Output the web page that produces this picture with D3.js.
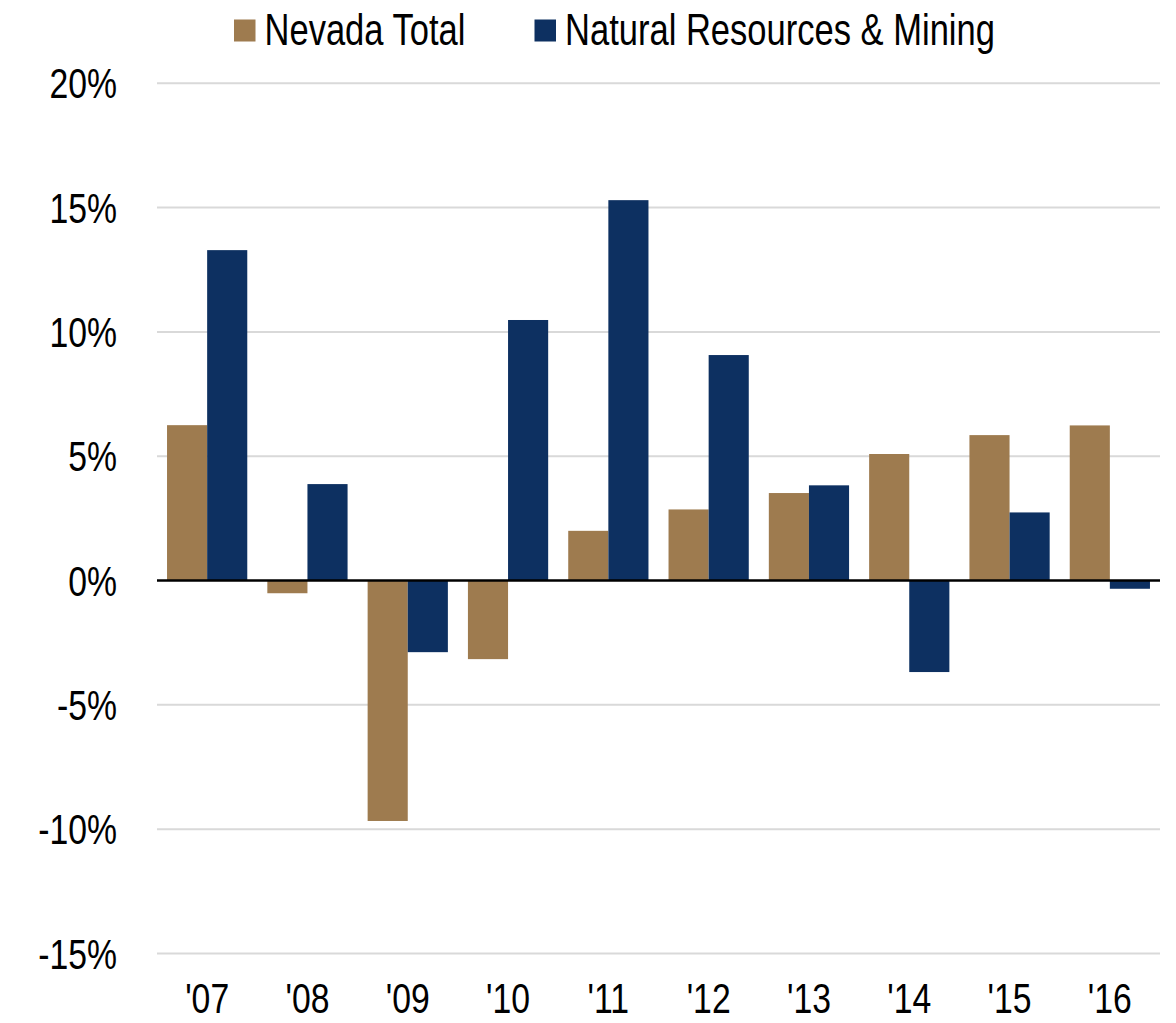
<!DOCTYPE html>
<html>
<head>
<meta charset="utf-8">
<script src="https://cdn.jsdelivr.net/npm/d3@7"></script>
<style>
  html, body { margin: 0; padding: 0; background: #fff; }
  svg text { font-family: "Liberation Sans", Arial, sans-serif; fill: #000; }
</style>
</head>
<body>
<svg id="chart" width="1176" height="1023"></svg>
<script>
// Annual employment growth by year
const years = ["'07", "'08", "'09", "'10", "'11", "'12", "'13", "'14", "'15", "'16"];
const nevadaTotal = [6.25, -0.51, -9.67, -3.16, 2.0, 2.86, 3.52, 5.09, 5.85, 6.24];
const naturalResources = [13.29, 3.88, -2.88, 10.48, 15.3, 9.07, 3.83, -3.68, 2.74, -0.33];
const seriesNames = ["Nevada Total", "Natural Resources & Mining"];
const seriesColors = ["#9E7B4F", "#0D3061"];
const yTicks = [20, 15, 10, 5, 0, -5, -10, -15];

const svg = d3.select("#chart");
const plotLeft = 157, plotRight = 1160, plotTop = 83.3, plotBottom = 953.5;
const fontStack = "'Liberation Sans', Arial, sans-serif";
const narrow = 0.785; // condensed look for all labels

const x = d3.scaleBand().domain(years).range([plotLeft, plotRight]).paddingInner(0.2).paddingOuter(0.1);
const xSub = d3.scaleBand().domain([0, 1]).range([0, x.bandwidth()]);
const y = d3.scaleLinear().domain([-15, 20]).range([plotBottom, plotTop]);

// Horizontal gridlines
svg.append("g").selectAll("line").data(yTicks.filter(d => d !== 0)).join("line")
  .attr("x1", plotLeft).attr("x2", plotRight)
  .attr("y1", d => y(d)).attr("y2", d => y(d))
  .attr("stroke", "#d9d9d9").attr("stroke-width", 2);

// Y axis labels
const yAxis = d3.axisLeft(y).tickValues(yTicks).tickFormat(d => d + "%").tickSize(0).tickPadding(0);
const ya = svg.append("g").attr("transform", "translate(117,0)").call(yAxis);
ya.select(".domain").remove();
ya.selectAll("text").attr("font-size", 43).attr("x", 0).attr("dy", "0.34em")
  .attr("transform", `scale(${narrow},1)`)
  .style("font-family", fontStack).attr("fill", "#000");

// Bars
const data = years.map((yr, i) => ({ yr, vals: [nevadaTotal[i], naturalResources[i]] }));
svg.append("g").selectAll("g").data(data).join("g")
  .attr("transform", d => `translate(${x(d.yr)},0)`)
  .selectAll("rect").data(d => d.vals.map((v, k) => ({ v, k }))).join("rect")
  .attr("x", d => xSub(d.k))
  .attr("width", xSub.bandwidth())
  .attr("y", d => Math.min(y(d.v), y(0)))
  .attr("height", d => Math.abs(y(d.v) - y(0)))
  .attr("fill", d => seriesColors[d.k]);

// Zero line
svg.append("line").attr("x1", plotLeft).attr("x2", plotRight)
  .attr("y1", y(0)).attr("y2", y(0)).attr("stroke", "#000").attr("stroke-width", 2.5);

// X axis labels
const xAxis = d3.axisBottom(x).tickSize(0).tickPadding(0);
const xa = svg.append("g").attr("transform", "translate(0,1013)").call(xAxis);
xa.select(".domain").remove();
xa.selectAll("text").attr("font-size", 43).attr("dy", 0).attr("y", 0)
  .attr("transform", `scale(${narrow},1)`)
  .style("font-family", fontStack).attr("fill", "#000");

// Legend
const legendX = [234, 534.5];
const lg = svg.append("g").selectAll("g").data(seriesNames).join("g")
  .attr("transform", (d, i) => `translate(${legendX[i]},0)`);
lg.append("rect").attr("x", 0).attr("y", 19.5).attr("width", 21.5).attr("height", 22)
  .attr("fill", (d, i) => seriesColors[i]);
lg.append("text").attr("transform", `translate(30.5,45) scale(${narrow},1)`)
  .attr("font-size", 44).text(d => d);
</script>
</body>
</html>
